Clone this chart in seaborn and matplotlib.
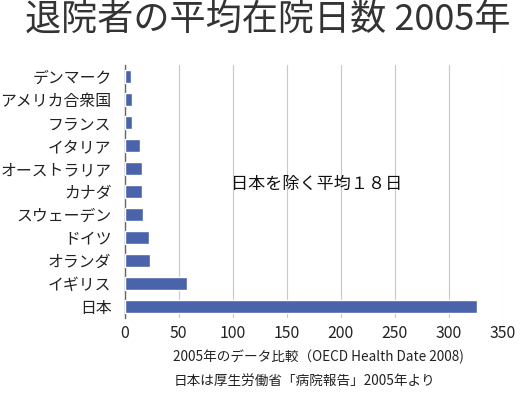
import matplotlib
matplotlib.use("Agg")
import matplotlib.pyplot as plt
import seaborn as sns
import pandas as pd

countries = ['デンマーク', 'アメリカ合衆国', 'フランス', 'イタリア', 'オーストラリア',
             'カナダ', 'スウェーデン', 'ドイツ', 'オランダ', 'イギリス', '日本']
days = [5.7, 7.0, 6.8, 14.0, 15.5, 16.0, 17.0, 22.5, 23.0, 58.0, 326.0]
x_ticks = [0, 50, 100, 150, 200, 250, 300, 350]

df = pd.DataFrame({'country': countries, 'days': days})

sns.set_style('white')
plt.rcParams['font.family'] = ['Noto Sans CJK JP', 'DejaVu Sans']

fig = plt.figure(figsize=(5.2, 3.94), dpi=100)
ax = fig.add_axes([0.240, 0.193, 0.727, 0.642])

sns.barplot(data=df, x='days', y='country', orient='h', color='#4a63ab',
            saturation=1, width=0.54, ax=ax, zorder=3)

ax.set_xlim(0, 350)
ax.set_xticks(x_ticks)
ax.xaxis.grid(True, color='#c8c8c8', linewidth=0.8, zorder=0)
ax.set_axisbelow(True)
ax.set_xlabel('')
ax.set_ylabel('')
for s in ['top', 'right', 'bottom']:
    ax.spines[s].set_visible(False)
ax.spines['left'].set_color('#666666')
ax.spines['left'].set_linewidth(1.0)
ax.tick_params(axis='both', length=0, labelsize=11.4, colors='#222222')
ax.tick_params(axis='x', pad=5)
ax.tick_params(axis='y', pad=9.5)

fig.text(0.515, 0.948, '退院者の平均在院日数 2005年', ha='center', va='center',
         fontsize=26, color='#333333')
ax.text(0.28, 0.53, '日本を除く平均１８日', transform=ax.transAxes,
        ha='left', va='center', fontsize=12.3, color='#111111')
fig.text(0.333, 0.093, '2005年のデータ比較（OECD Health Date 2008)',
         ha='left', va='center', fontsize=9.8, color='#222222')
fig.text(0.333, 0.032, '日本は厚生労働省「病院報告」2005年より',
         ha='left', va='center', fontsize=9.8, color='#222222')

fig.savefig('out.png', dpi=100)
